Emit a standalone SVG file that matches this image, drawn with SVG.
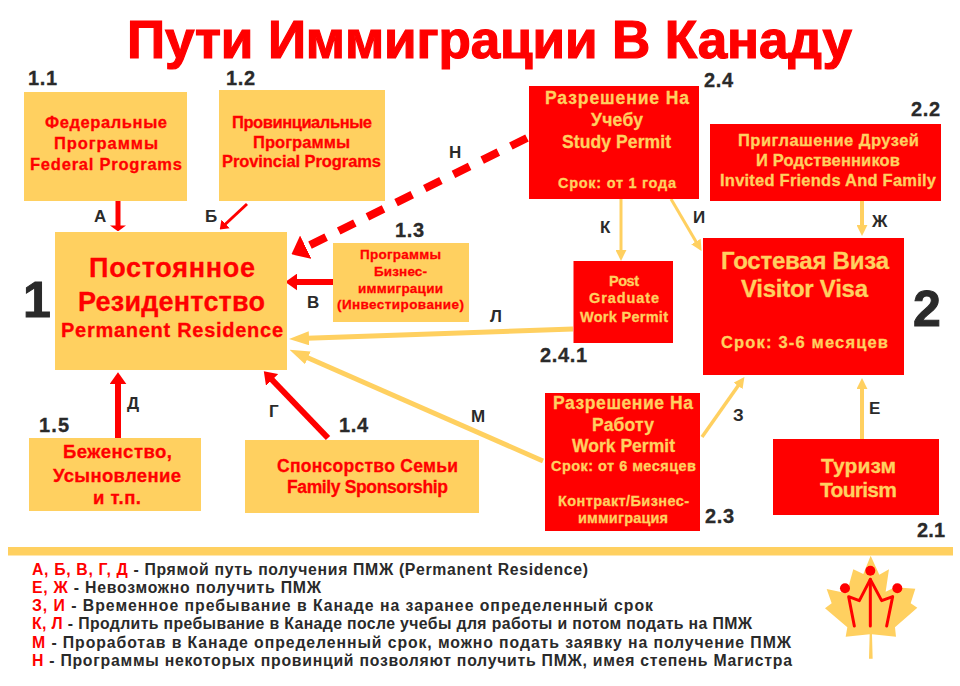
<svg xmlns="http://www.w3.org/2000/svg" width="960" height="686" viewBox="0 0 960 686">
<style>
text{font-family:"Liberation Sans",Arial,sans-serif;font-weight:700}
.y{fill:#FFD060}.r{fill:#FF0000}.d{fill:#2A2A2A}
text.y{stroke:#FFD060;stroke-width:.3px}
text.r{stroke:#FF0000;stroke-width:.3px}
.n{font-size:20px;fill:#2A2A2A;stroke:#2A2A2A;stroke-width:.3px}
.l{font-size:17px;fill:#2A2A2A}
.c{fill:none}
.cr{stroke:#FF0000}.cy{stroke:#FFD060}
.t16{font-size:16.500px}.t17{font-size:17.500px}.t14{font-size:14.500px}.t13{font-size:13.500px}.t18{font-size:18.500px}
.lg{font-size:15.800px;fill:#2A2A2A}
tspan.r{stroke:none}
</style>
<defs>
<marker id="ra" viewBox="0 0 10 10" refX="1" refY="5" markerWidth="6" markerHeight="16" markerUnits="userSpaceOnUse" orient="auto" preserveAspectRatio="none"><path d="M0 0L10 5L0 10z" fill="#FF0000"/></marker>
<marker id="rs" viewBox="0 0 10 10" refX="1" refY="5" markerWidth="8" markerHeight="12" markerUnits="userSpaceOnUse" orient="auto" preserveAspectRatio="none"><path d="M0 0L10 5L0 10z" fill="#FF0000"/></marker>
<marker id="rb" viewBox="0 0 10 10" refX="1" refY="5" markerWidth="12" markerHeight="17" markerUnits="userSpaceOnUse" orient="auto" preserveAspectRatio="none"><path d="M0 0L10 5L0 10z" fill="#FF0000"/></marker>
<marker id="rh" viewBox="0 0 10 10" refX="1" refY="5" markerWidth="16" markerHeight="26" markerUnits="userSpaceOnUse" orient="auto" preserveAspectRatio="none"><path d="M0 0L10 5L0 10z" fill="#FF0000"/></marker>
<marker id="ya" viewBox="0 0 10 10" refX="1" refY="5" markerWidth="11" markerHeight="11" markerUnits="userSpaceOnUse" orient="auto" preserveAspectRatio="none"><path d="M0 0L10 5L0 10z" fill="#FFD060"/></marker>
<marker id="yb" viewBox="0 0 10 10" refX="1" refY="5" markerWidth="20" markerHeight="14" markerUnits="userSpaceOnUse" orient="auto" preserveAspectRatio="none"><path d="M0 0L10 5L0 10z" fill="#FFD060"/></marker>
</defs>
<rect width="960" height="686" fill="#FFFFFF"/>
<text id="title" class="r" x="127" y="58" font-size="53" textLength="725" style="stroke-width:1.200px">Пути Иммиграции В Канаду</text>

<g id="connectors" class="c">
<path class="cr" stroke-width="5" d="M118 200V226" marker-end="url(#ra)"/>
<path class="cr" stroke-width="3" d="M247 204L225 224.500" marker-end="url(#rs)"/>
<path class="cr" stroke-width="8" stroke-dasharray="18 14" d="M527 138L304.400 247.900" marker-end="url(#rh)"/>
<path class="cr" stroke-width="6" d="M333 282H296" marker-end="url(#rb)"/>
<path class="cy" stroke-width="5" d="M573 329L307 338.300" marker-end="url(#yb)"/>
<path class="cy" stroke-width="5" d="M543 461L306 357" marker-end="url(#yb)"/>
<path class="cy" stroke-width="3" d="M621 199V251" marker-end="url(#ya)"/>
<path class="cy" stroke-width="3" d="M671 199L696.500 242.500" marker-end="url(#ya)"/>
<path class="cy" stroke-width="4" d="M862 201V226" marker-end="url(#ya)"/>
<path class="cy" stroke-width="3.500" d="M702 437L738.700 385" marker-end="url(#ya)"/>
<path class="cy" stroke-width="4" d="M862 439V388" marker-end="url(#ya)"/>
<path class="cr" stroke-width="6" d="M118 438V383" marker-end="url(#rb)"/>
<path class="cr" stroke-width="6" d="M328 438L271.300 379" marker-end="url(#rb)"/>
<text class="l" x="94" y="222" textLength="12">А</text>
<text class="l" x="205" y="222" textLength="10">Б</text>
<text class="l" x="449" y="158" textLength="12">Н</text>
<text class="l" x="307" y="308" textLength="10">В</text>
<text class="l" x="490" y="322" textLength="13">Л</text>
<text class="l" x="600" y="233" textLength="11">К</text>
<text class="l" x="693" y="223" textLength="12">И</text>
<text class="l" x="872" y="227" textLength="17">Ж</text>
<text class="l" x="471" y="422" textLength="15">М</text>
<text class="l" x="127" y="409" textLength="13">Д</text>
<text class="l" x="269" y="417" textLength="8">Г</text>
<text class="l" x="733" y="421" textLength="9">З</text>
<text class="l" x="869" y="414" textLength="8">Е</text>
</g>

<g id="node-1-1">
<rect class="y" x="24" y="92" width="163" height="109"/>
<text class="n" x="28" y="85" textLength="29">1.1</text>
<text class="r t16" x="45" y="128" textLength="122">Федеральные</text>
<text class="r t16" x="54" y="149" textLength="104">Программы</text>
<text class="r t16" x="30" y="170" textLength="152">Federal Programs</text>
</g>
<g id="node-1-2">
<rect class="y" x="219" y="90" width="166" height="111"/>
<text class="n" x="226" y="85" textLength="29">1.2</text>
<text class="r t16" x="232" y="128" textLength="140">Провинциальные</text>
<text class="r t16" x="253" y="148" textLength="97">Программы</text>
<text class="r t16" x="222" y="167" textLength="159">Provincial Programs</text>
</g>
<g id="node-1">
<rect class="y" x="55" y="232" width="232" height="138"/>
<text class="d" font-size="50" x="23" y="317" textLength="22" stroke="#2A2A2A" stroke-width="1">1</text>
<text class="r" font-size="27" x="89" y="277" textLength="166">Постоянное</text>
<text class="r" font-size="27" x="78" y="311" textLength="187">Резидентство</text>
<text class="r" font-size="20" x="61" y="337" textLength="222">Permanent Residence</text>
</g>
<g id="node-1-3">
<rect class="y" x="333" y="243" width="136" height="79"/>
<text class="n" x="395" y="237" textLength="29">1.3</text>
<text class="r t13" x="360" y="259" textLength="81">Программы</text>
<text class="r t13" x="374" y="276" textLength="53">Бизнес-</text>
<text class="r t13" x="358" y="293" textLength="85">иммиграции</text>
<text class="r t13" x="337" y="309" textLength="127">(Инвестирование)</text>
</g>
<g id="node-1-5">
<rect class="y" x="29" y="438" width="172" height="73"/>
<text class="n" x="39" y="432" textLength="30">1.5</text>
<text class="r t18" x="63" y="458" textLength="109">Беженство,</text>
<text class="r t18" x="53" y="482" textLength="128">Усыновление</text>
<text class="r t18" x="93" y="504" textLength="48">и т.п.</text>
</g>
<g id="node-1-4">
<rect class="y" x="245" y="440" width="234" height="73"/>
<text class="n" x="339" y="432" textLength="29">1.4</text>
<text class="r t17" x="277" y="472" textLength="181">Спонсорство Семьи</text>
<text class="r t17" x="287" y="493" textLength="161">Family Sponsorship</text>
</g>
<g id="node-2-4">
<rect class="r" x="529" y="86" width="170" height="113"/>
<text class="n" x="704" y="87" textLength="29">2.4</text>
<text class="y t17" x="545" y="104" textLength="144">Разрешение На</text>
<text class="y t17" x="591" y="126" textLength="52">Учебу</text>
<text class="y t17" x="562" y="148" textLength="109">Study Permit</text>
<text class="y t14" x="558" y="188" textLength="118">Срок: от 1 года</text>
</g>
<g id="node-2-2">
<rect class="r" x="710" y="124" width="231" height="77"/>
<text class="n" x="911" y="116" textLength="29">2.2</text>
<text class="y t16" x="738" y="146" textLength="181">Приглашение Друзей</text>
<text class="y t16" x="756" y="166" textLength="144">И Родственников</text>
<text class="y t16" x="720" y="186" textLength="216">Invited Friends And Family</text>
</g>
<g id="node-2">
<rect class="r" x="703" y="238" width="201" height="137"/>
<text class="d" font-size="50" x="913" y="326" textLength="29" stroke="#2A2A2A" stroke-width="1">2</text>
<text class="y" font-size="24" x="721" y="269" textLength="168">Гостевая Виза</text>
<text class="y" font-size="24" x="741" y="297" textLength="127">Visitor Visa</text>
<text class="y t16" x="721" y="348" textLength="167">Срок: 3-6 месяцев</text>
</g>
<g id="node-2-4-1">
<rect class="r" x="573.500" y="261" width="99.500" height="82"/>
<text class="n" x="540" y="362" textLength="47">2.4.1</text>
<text class="y t14" x="609" y="286" textLength="30">Post</text>
<text class="y t14" x="589" y="303" textLength="70">Graduate</text>
<text class="y t14" x="580" y="322" textLength="88">Work Permit</text>
</g>
<g id="node-2-3">
<rect class="r" x="545" y="393" width="155" height="138"/>
<text class="n" x="705" y="523" textLength="29">2.3</text>
<text class="y t17" x="553" y="409" textLength="140">Разрешение На</text>
<text class="y t17" x="592" y="431" textLength="62">Работу</text>
<text class="y t17" x="572" y="452" textLength="103">Work Permit</text>
<text class="y t14" x="551" y="471" textLength="145">Срок: от 6 месяцев</text>
<text class="y t14" x="558" y="506" textLength="131">Контракт/Бизнес-</text>
<text class="y t14" x="578" y="523" textLength="90">иммиграция</text>
</g>
<g id="node-2-1">
<rect class="r" x="773" y="439" width="166" height="76"/>
<text class="n" x="917" y="537" textLength="28">2.1</text>
<text class="y" font-size="21" x="821" y="473" textLength="75">Туризм</text>
<text class="y" font-size="21" x="820" y="497" textLength="77">Tourism</text>
</g>

<rect id="divider" class="y" x="8" y="547" width="945" height="8.500"/>

<g id="legend">
<text class="lg" x="32" y="575" textLength="556"><tspan class="r">А, Б, В, Г, Д</tspan> - Прямой путь получения ПМЖ (Permanent Residence)</text>
<text class="lg" x="32" y="593" textLength="289"><tspan class="r">Е, Ж</tspan> - Невозможно получить ПМЖ</text>
<text class="lg" x="32" y="611" textLength="621"><tspan class="r">З, И</tspan> - Временное пребывание в Канаде на заранее определенный срок</text>
<text class="lg" x="32" y="629" textLength="720"><tspan class="r">К, Л</tspan> - Продлить пребывание в Канаде после учебы для работы и потом подать на ПМЖ</text>
<text class="lg" x="32" y="648" textLength="759"><tspan class="r">М</tspan> - Проработав в Канаде определенный срок, можно подать заявку на получение ПМЖ</text>
<text class="lg" x="32" y="666" textLength="760"><tspan class="r">Н</tspan> - Программы некоторых провинций позволяют получить ПМЖ, имея степень Магистра</text>
</g>

<g id="logo" transform="translate(800 540) scale(.3333)">
<path class="y" d="M212 47L238 104L267 88L257 155L285 142L346 146L332 190L352 203L285 262L288 290L216 283L218 356H207L209 283L137 290L142 262L75 205L95 190L80 147L140 160L160 88L190 102Z"/>
<g fill="none" stroke="#FF0000" stroke-linejoin="round" stroke-linecap="round">
<path stroke-width="9" d="M211 258V118"/>
<path stroke-width="9" d="M163 258L146 170L178 182L211 118L245 182L278 170L260 258"/>
</g>
<circle class="r" cx="211" cy="92" r="15"/>
<circle class="r" cx="135" cy="145" r="15"/>
<circle class="r" cx="292" cy="145" r="15"/>
</g>
</svg>
